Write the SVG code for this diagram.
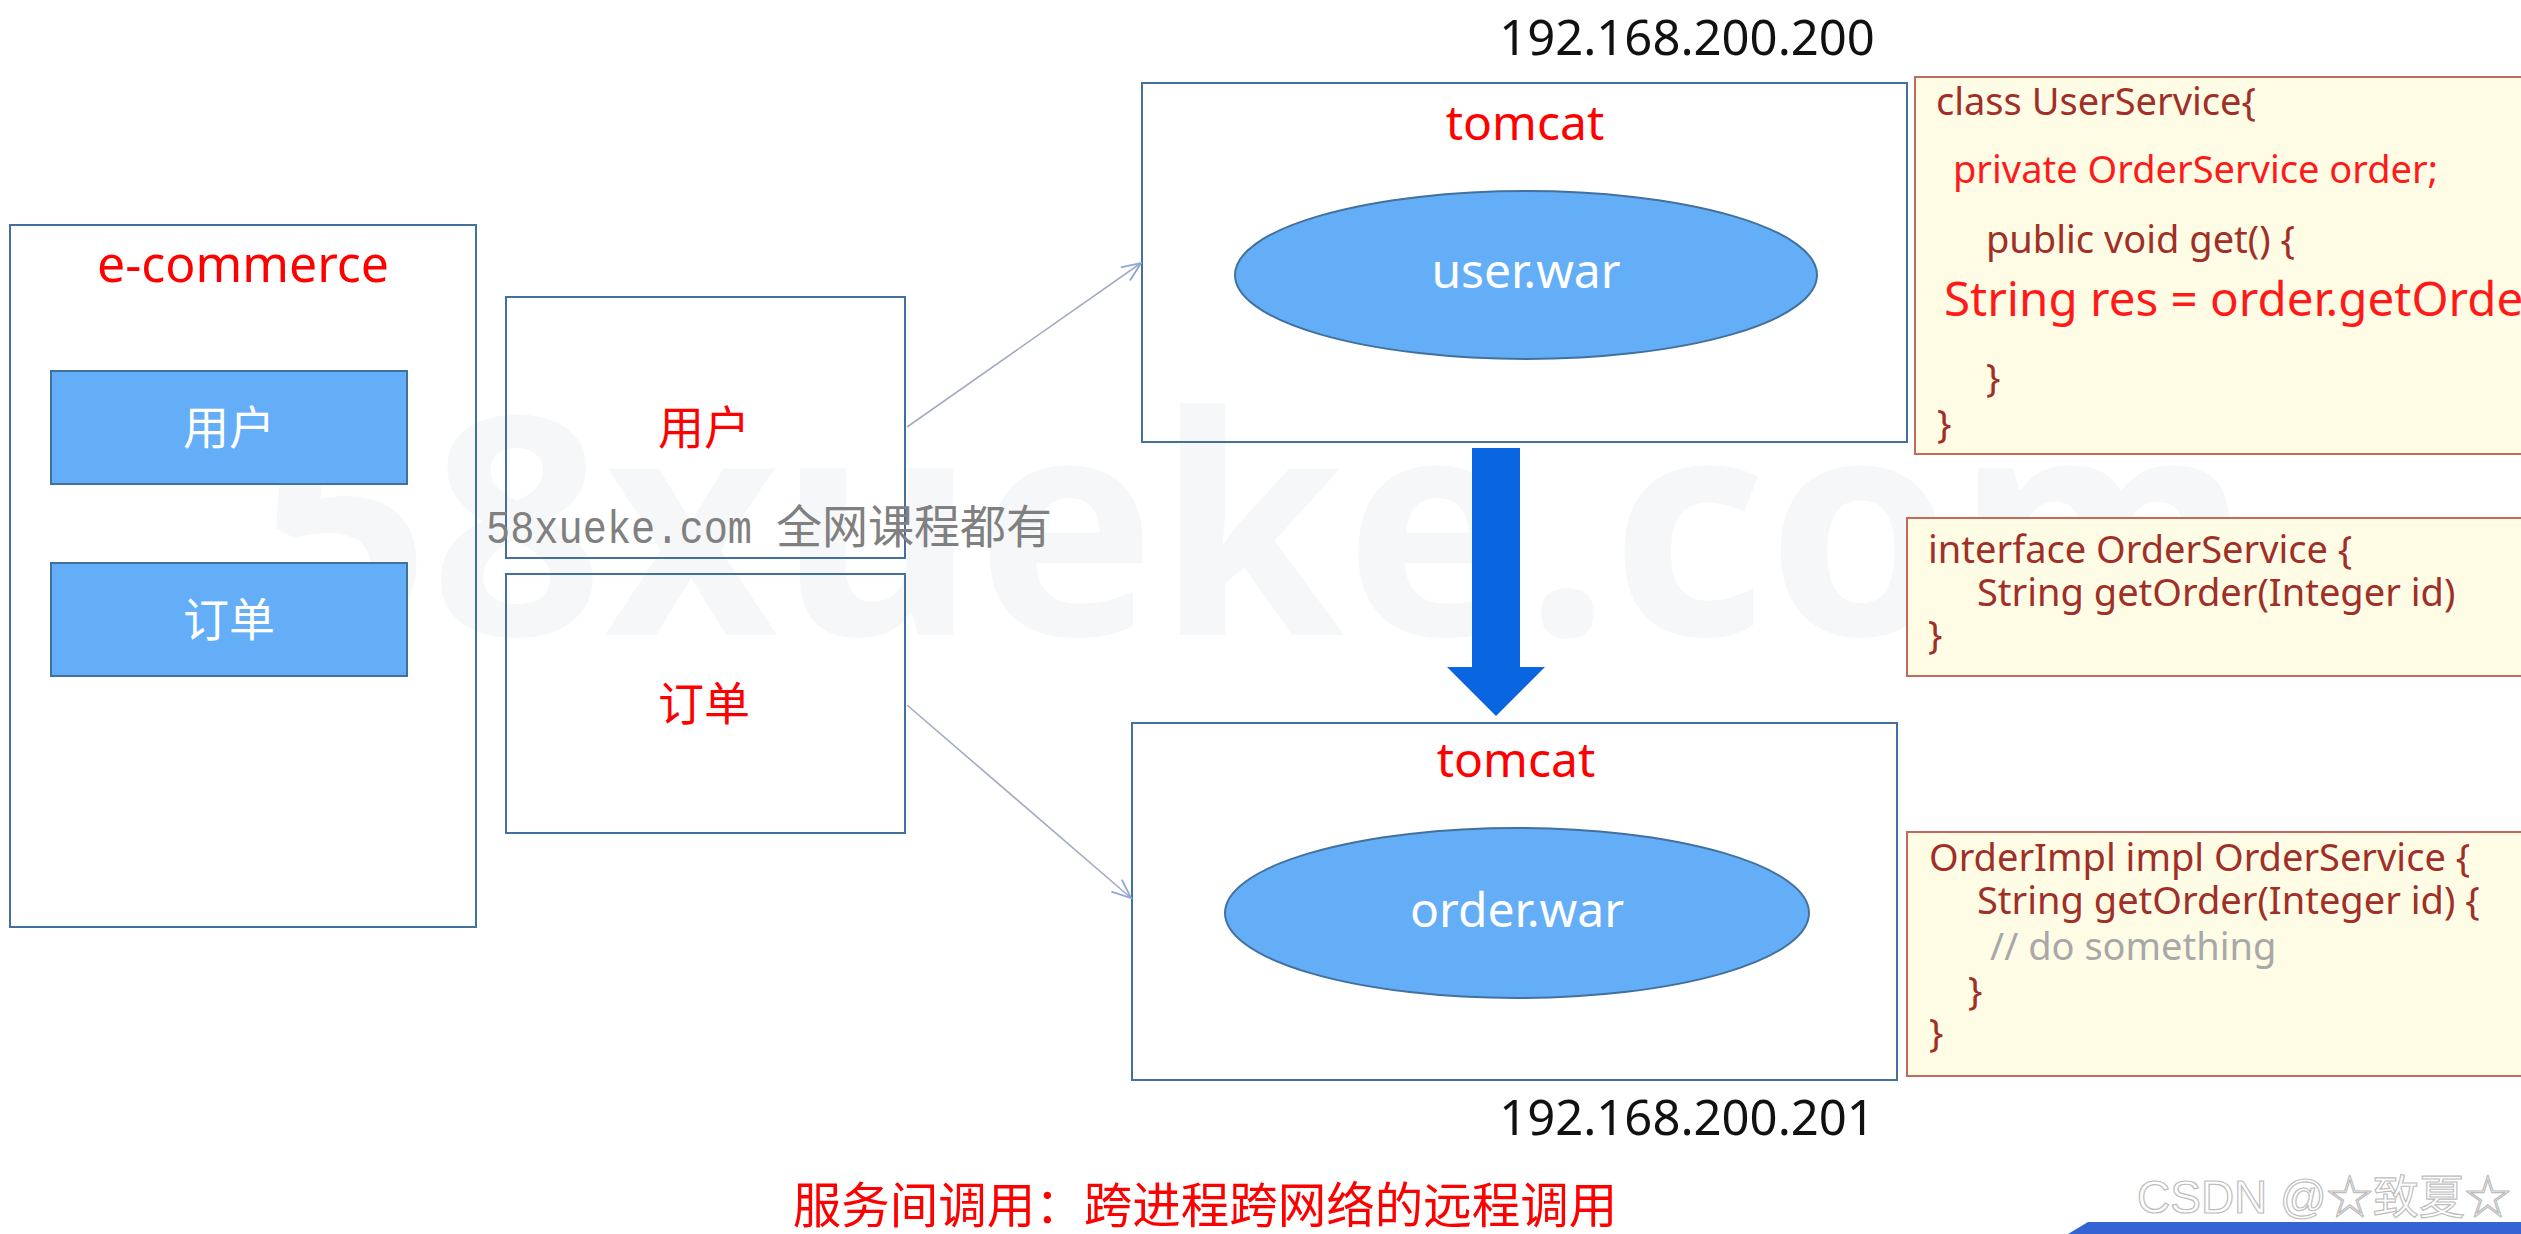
<svg xmlns="http://www.w3.org/2000/svg" width="2521" height="1234" viewBox="0 0 2521 1234">
<style>
.lat{font-family:"Noto Sans","Noto Sans CJK SC",sans-serif}
.cjk{font-family:"Noto Sans CJK SC","Noto Sans",sans-serif}
.frame{fill:none;stroke:#41719c;stroke-width:2}
.blue{fill:#64aef7;stroke:#41719c;stroke-width:2}
.red{fill:#ff0000}
.white{fill:#ffffff}
.ip{fill:#111111;font-size:49px}
.code{fill:#fffce6;stroke:#c46a5c;stroke-width:2}
.ct{font-size:38px;fill:#a02f27}
.cr{fill:#ff1a1a}
.big{font-size:47.5px}
.cg{fill:#a8a8a8}
.conn{fill:none;stroke:#a2abc0;stroke-width:1.6}
</style>
<defs>
<marker id="open" markerUnits="userSpaceOnUse" markerWidth="26" markerHeight="22" refX="21" refY="10" orient="auto">
<path d="M2,2 L21,10 L2,18" fill="none" stroke="#8ea6d6" stroke-width="1.8"/>
</marker>
</defs>
<rect width="2521" height="1234" fill="#ffffff"/>
<text x="257" y="635" class="lat" font-size="305" font-weight="bold" fill="#f6f7f8" textLength="1994" lengthAdjust="spacingAndGlyphs">58xueke.com</text>

<g id="ecommerce">
<rect x="10" y="225" width="466" height="702" class="frame"/>
<text x="243" y="282" class="lat red" font-size="50" text-anchor="middle">e-commerce</text>
</g>
<g id="ecommerce-user">
<rect x="51" y="371" width="356" height="113" class="blue"/>
<text x="229" y="444" class="cjk white" font-size="46" text-anchor="middle">用户</text>
</g>
<g id="ecommerce-order">
<rect x="51" y="563" width="356" height="113" class="blue"/>
<text x="229" y="636" class="cjk white" font-size="46" text-anchor="middle">订单</text>
</g>

<g id="svc-user">
<rect x="506" y="297" width="399" height="261" class="frame"/>
<text x="704" y="444" class="cjk red" font-size="46" text-anchor="middle">用户</text>
</g>
<g id="svc-order">
<rect x="506" y="574" width="399" height="259" class="frame"/>
<text x="704" y="720" class="cjk red" font-size="46" text-anchor="middle">订单</text>
</g>

<g id="tomcat-user">
<text x="1687" y="55" class="lat ip" text-anchor="middle">192.168.200.200</text>
<rect x="1142" y="83" width="765" height="359" class="frame"/>
<text x="1525" y="140" class="lat red" font-size="48" text-anchor="middle">tomcat</text>
</g>
<g id="user-war">
<ellipse cx="1526" cy="275" rx="291" ry="84" class="blue"/>
<text x="1526" y="288" class="lat white" font-size="48" text-anchor="middle">user.war</text>
</g>

<g id="tomcat-order">
<rect x="1132" y="723" width="765" height="357" class="frame"/>
<text x="1516" y="777" class="lat red" font-size="48" text-anchor="middle">tomcat</text>
<text x="1687" y="1135" class="lat ip" text-anchor="middle">192.168.200.201</text>
</g>
<g id="order-war">
<ellipse cx="1517" cy="913" rx="292" ry="85" class="blue"/>
<text x="1517" y="927" class="lat white" font-size="48" text-anchor="middle">order.war</text>
</g>

<g id="code-userservice">
<rect x="1915" y="77" width="640" height="377" class="code"/>
<text x="1936" y="115" class="lat ct">class UserService{</text>
<text x="1953" y="183" class="lat ct cr">private OrderService order;</text>
<text x="1986" y="253" class="lat ct">public void get() {</text>
<text x="1944" y="316" class="lat ct cr big">String res = order.getOrder</text>
<text x="1986" y="391" class="lat ct">}</text>
<text x="1937" y="437" class="lat ct">}</text>
</g>
<g id="code-orderservice">
<rect x="1907" y="518" width="650" height="158" class="code"/>
<text x="1928" y="563" class="lat ct">interface OrderService {</text>
<text x="1977" y="606" class="lat ct">String getOrder(Integer id)</text>
<text x="1928" y="648" class="lat ct">}</text>
</g>
<g id="code-orderimpl">
<rect x="1907" y="832" width="650" height="244" class="code"/>
<text x="1929" y="871" class="lat ct">OrderImpl impl OrderService {</text>
<text x="1977" y="914" class="lat ct">String getOrder(Integer id) {</text>
<text x="1990" y="960" class="lat ct cg">// do something</text>
<text x="1968" y="1004" class="lat ct">}</text>
<text x="1929" y="1046" class="lat ct">}</text>
</g>

<g id="connectors">
<line x1="907" y1="427" x2="1141" y2="263" class="conn" marker-end="url(#open)"/>
<line x1="907" y1="705" x2="1131" y2="898" class="conn" marker-end="url(#open)"/>
<polygon points="1472,448 1520,448 1520,667 1545,667 1496,716 1447,667 1472,667" fill="#0a66e0"/>
</g>

<g id="captions">
<text x="1205" y="1223" class="cjk red" font-size="48.5" text-anchor="middle">服务间调用：跨进程跨网络的远程调用</text>
<text x="486" y="543" font-size="46" fill="#808080"><tspan font-family="Liberation Mono,monospace" textLength="266" lengthAdjust="spacingAndGlyphs">58xueke.com</tspan><tspan class="cjk" dx="24">全网课程都有</tspan></text>
<text x="2137" y="1213" font-family="Liberation Sans,Noto Sans CJK SC,sans-serif" font-size="46" fill="#ffffff" stroke="#bdbdbd" stroke-width="1.2">CSDN @☆致夏☆</text>
<polygon points="2068,1234 2088,1222 2521,1222 2521,1234" fill="#3563d3"/>
</g>
</svg>
